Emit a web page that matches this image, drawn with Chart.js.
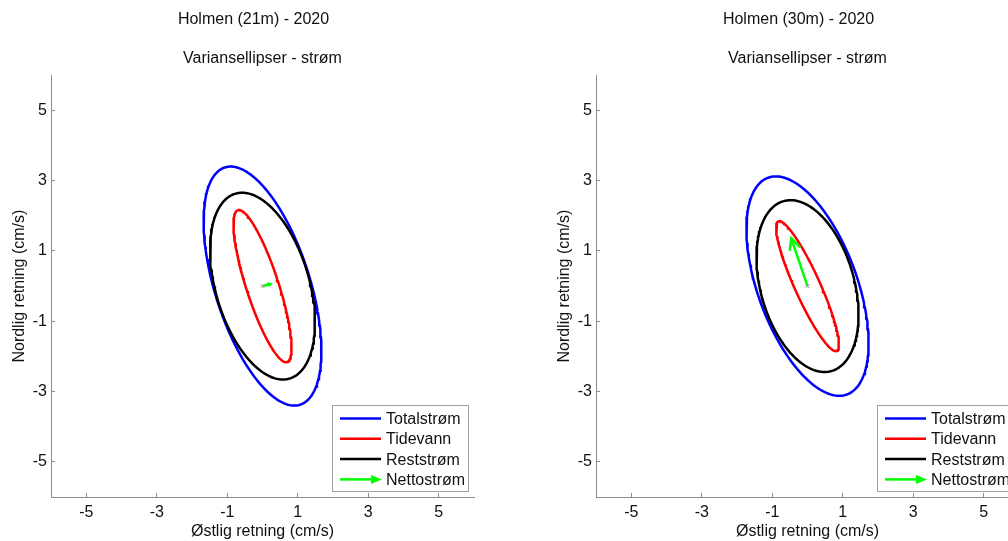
<!DOCTYPE html>
<html>
<head>
<meta charset="utf-8">
<script src="https://cdn.jsdelivr.net/npm/chart.js@4.4.1/dist/chart.umd.min.js"></script>
<style>
  html, body { margin: 0; padding: 0; background: #fff; overflow: hidden; width: 1008px; height: 541px; }
  .panel { position: absolute; top: 0; }
</style>
</head>
<body>
<canvas id="holmen21" class="panel" width="504" height="541" style="left:0px"></canvas>
<canvas id="holmen30" class="panel" width="504" height="541" style="left:545px"></canvas>
<script>
const tickValues = [-5, -3, -1, 1, 3, 5];
const seriesNames = ["Totalstrøm", "Tidevann", "Reststrøm", "Nettostrøm"];

// variance ellipses: semi-major / semi-minor axis (cm/s), direction of major axis (deg from east)
const major21 = [3.54, 2.27, 2.74];
const minor21 = [1.35, 0.46, 1.33];
const angle21 = [107.5, 107.9, 106.2];
const netto21 = [0.22, 0.06];   // mean current (east, north)

const major30 = [3.28, 2.02, 2.51];
const minor30 = [1.41, 0.36, 1.33];
const angle30 = [109.9, 114.2, 105.6];
const netto30 = [-0.46, 1.36];

const colors = ["#0000ff", "#ff0000", "#000000", "#00ff00"];
const axisGray = "#8c8c8c";
const textColor = "#111111";
const fontFamily = '"Liberation Sans", Arial, sans-serif';

Chart.defaults.font.family = fontFamily;
Chart.defaults.font.size = 16;
Chart.defaults.color = textColor;

function ellipse(a, b, deg) {
  const t = deg * Math.PI / 180;
  const pts = [];
  for (let k = 0; k <= 180; k++) {
    const p = 2 * Math.PI * k / 180;
    pts.push({
      x: a * Math.cos(p) * Math.cos(t) - b * Math.sin(p) * Math.sin(t),
      y: a * Math.cos(p) * Math.sin(t) + b * Math.sin(p) * Math.cos(t)
    });
  }
  return pts;
}

// station name above the axes title
const figureTitle = {
  id: "figureTitle",
  afterDraw(chart, args, opts) {
    const { ctx, chartArea } = chart;
    ctx.save();
    ctx.font = "16px " + fontFamily;
    ctx.fillStyle = textColor;
    ctx.textAlign = "center";
    ctx.textBaseline = "middle";
    ctx.fillText(opts.text, (chartArea.left + chartArea.right) / 2 + opts.shift, opts.y);
    ctx.restore();
  }
};

// quiver style head on the mean current vector
const arrowHead = {
  id: "arrowHead",
  afterDatasetsDraw(chart) {
    const ctx = chart.ctx;
    chart.data.datasets.forEach((ds, i) => {
      if (!ds.arrow) return;
      const pts = chart.getDatasetMeta(i).data;
      const p0 = pts[0], p1 = pts[1];
      const ang = Math.atan2(p1.y - p0.y, p1.x - p0.x);
      const len = Math.hypot(p1.x - p0.x, p1.y - p0.y);
      const h = Math.max(3, len * 0.25);
      ctx.save();
      ctx.strokeStyle = ds.borderColor;
      ctx.lineWidth = 2.5;
      ctx.lineJoin = "miter";
      ctx.beginPath();
      ctx.moveTo(p1.x - h * Math.cos(ang - 0.45), p1.y - h * Math.sin(ang - 0.45));
      ctx.lineTo(p1.x, p1.y);
      ctx.lineTo(p1.x - h * Math.cos(ang + 0.45), p1.y - h * Math.sin(ang + 0.45));
      ctx.stroke();
      ctx.restore();
    });
  }
};

// boxed legend in the lower right corner of the axes
const boxLegend = {
  id: "boxLegend",
  afterDraw(chart) {
    const { ctx, chartArea } = chart;
    const w = 136, h = 86;
    const x0 = chartArea.right - 142, y0 = chartArea.bottom - 6 - h;
    ctx.save();
    ctx.fillStyle = "#fff";
    ctx.fillRect(x0, y0, w, h);
    ctx.strokeStyle = "#a0a0a0";
    ctx.lineWidth = 1;
    ctx.strokeRect(x0 + 0.5, y0 + 0.5, w, h);
    ctx.font = "16px " + fontFamily;
    ctx.textBaseline = "middle";
    chart.data.datasets.forEach((ds, i) => {
      const y = y0 + 13.5 + i * 20.3;
      ctx.strokeStyle = ds.borderColor;
      ctx.fillStyle = ds.borderColor;
      ctx.lineWidth = 2.5;
      ctx.beginPath();
      ctx.moveTo(x0 + 8, y);
      ctx.lineTo(x0 + (ds.arrow ? 40 : 49), y);
      ctx.stroke();
      if (ds.arrow) {
        ctx.beginPath();
        ctx.moveTo(x0 + 50, y);
        ctx.lineTo(x0 + 39, y - 4.5);
        ctx.lineTo(x0 + 39, y + 4.5);
        ctx.closePath();
        ctx.fill();
      }
      ctx.fillStyle = textColor;
      ctx.fillText(ds.label, x0 + 54, y + 1);
    });
    ctx.restore();
  }
};

function axis(title, horizontal) {
  return {
    type: "linear",
    min: -6,
    max: 6,
    afterBuildTicks: s => { s.ticks = tickValues.map(v => ({ value: v })); },
    afterFit: s => { if (horizontal) s.height = 44; else s.width = 51; },
    grid: { display: true, drawOnChartArea: false, drawTicks: true, tickLength: -4, color: axisGray },
    border: { display: true, color: axisGray, width: 1 },
    ticks: { padding: horizontal ? 10 : 8, color: textColor, font: { size: 16 } },
    title: {
      display: true,
      text: title,
      color: textColor,
      font: { size: 16 },
      padding: horizontal ? { top: 0, bottom: 0 } : { top: 10, bottom: 0 }
    }
  };
}

function makeChart(id, station, major, minor, angle, netto) {
  const datasets = [0, 1, 2].map(i => ({
    label: seriesNames[i],
    data: ellipse(major[i], minor[i], angle[i]),
    showLine: true,
    borderColor: colors[i],
    borderWidth: 2.5,
    pointRadius: 0,
    order: 3 - i
  }));
  datasets.push({
    label: seriesNames[3],
    data: [{ x: 0, y: 0 }, { x: netto[0], y: netto[1] }],
    showLine: true,
    arrow: true,
    borderColor: colors[3],
    borderWidth: 2.5,
    pointStyle: "crossRot",
    pointRadius: [3, 0],
    pointBorderColor: "#9a9a9a",
    pointBorderWidth: 1,
    order: 0
  });

  new Chart(document.getElementById(id), {
    type: "scatter",
    data: { datasets },
    options: {
      responsive: false,
      animation: false,
      layout: { padding: { left: 0, right: 30, top: 0, bottom: 0 } },
      scales: {
        x: axis("Østlig retning (cm/s)", true),
        y: axis("Nordlig retning (cm/s)", false)
      },
      plugins: {
        legend: { display: false },
        tooltip: { enabled: false },
        title: {
          display: true,
          fullSize: false,
          text: "Variansellipser - strøm",
          color: textColor,
          font: { size: 16, weight: "normal" },
          padding: { top: 48.5, bottom: 7.5 }
        },
        figureTitle: { text: station, shift: -9, y: 19.5 }
      }
    },
    plugins: [figureTitle, arrowHead, boxLegend]
  });
}

makeChart("holmen21", "Holmen (21m) - 2020", major21, minor21, angle21, netto21);
makeChart("holmen30", "Holmen (30m) - 2020", major30, minor30, angle30, netto30);
</script>
</body>
</html>
